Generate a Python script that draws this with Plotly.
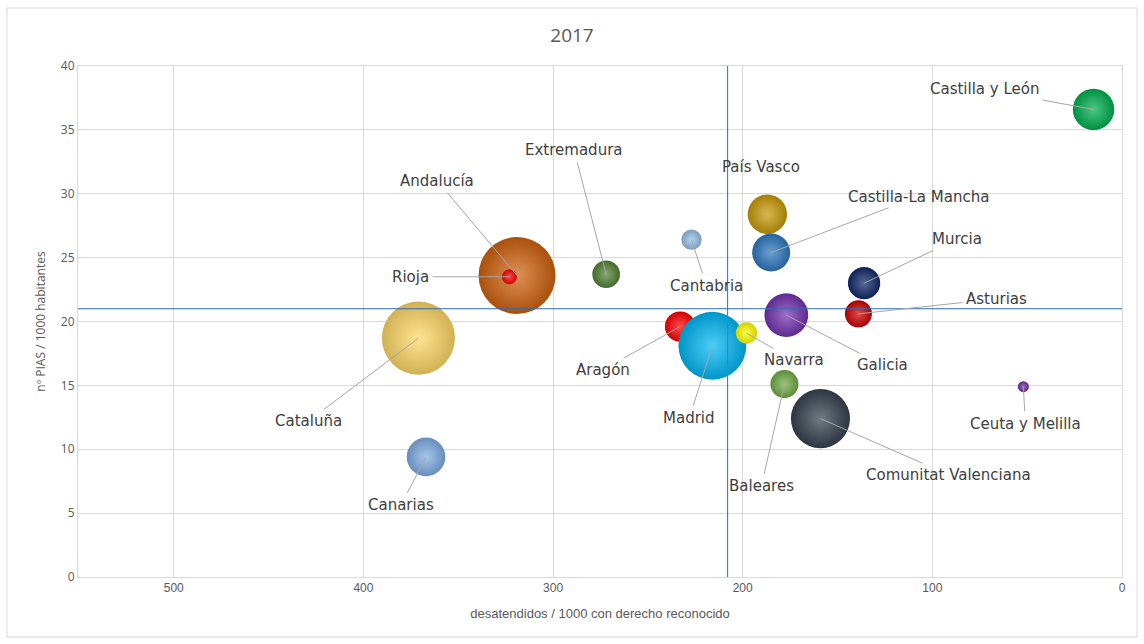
import plotly.graph_objects as go

# Regiones y valores 2017
regiones = ["Andalucía", "Aragón", "Asturias", "Baleares", "Canarias", "Cantabria",
            "Castilla-La Mancha", "Castilla y León", "Cataluña", "Ceuta y Melilla",
            "Comunitat Valenciana", "Extremadura", "Galicia", "Madrid", "Murcia",
            "Navarra", "País Vasco", "Rioja"]
desatendidos = [319, 233, 139, 178, 367, 227, 185, 15, 371, 52, 159, 272, 177, 216, 136, 198, 187, 323]
pias = [23.6, 19.6, 20.6, 15.1, 9.4, 26.4, 25.4, 36.6, 18.7, 14.9, 12.4, 23.7, 20.5, 18.1, 23.0, 19.1, 28.4, 23.5]
poblacion = [8379, 1308, 1035, 1115, 2108, 580, 2031, 2426, 7556, 171, 4941, 1080, 2708, 6507, 1470, 643, 2194, 315]

# Valores de referencia (medias)
media_desatendidos = 208
media_pias = 21.0

colores = ["#D0620F", "#FF0000", "#D00000", "#70AD47", "#7FAEE6", "#94C0EA",
           "#2E78C0", "#00B050", "#FFD966", "#7030A0", "#36414F", "#548235",
           "#7432B0", "#00B8F5", "#10296A", "#FFFF00", "#C89A08", "#FF0000"]

# Desplazamiento (px) de cada etiqueta respecto a su burbuja
etiqueta_dx = [-80, -77, 138, -23, -25, 15, 147, -109, -110, 2, 128, -32, 96, -23, 93, 47, -6, -99]
etiqueta_dy = [-95, 43, -15, 102, 48, 46, -56, -20, 83, 37, 56, -124, 50, 72, -44, 27, -47, 0]


def mezcla(hex_color, destino, t):
    h = hex_color.lstrip("#")
    r, g, b = (int(h[i:i + 2], 16) for i in (0, 2, 4))
    dr, dg, db = destino
    return "rgb({},{},{})".format(int(r + (dr - r) * t), int(g + (dg - g) * t), int(b + (db - b) * t))


centro = [mezcla(c, (255, 255, 255), 0.3) for c in colores]
borde = [mezcla(c, (0, 0, 0), 0.18) for c in colores]

# Diámetro máximo de burbuja: 77 px
sizeref = 2.0 * max(poblacion) / (77 ** 2)

fig = go.Figure()
fig.add_trace(go.Scatter(
    x=desatendidos, y=pias, mode="markers", text=regiones,
    marker=dict(size=poblacion, sizemode="area", sizeref=sizeref,
                color=borde, opacity=1,
                gradient=dict(type="radial", color=centro),
                line=dict(width=0)),
    hovertemplate="%{text}<br>%{x}, %{y}<extra></extra>",
    showlegend=False,
))

fig.add_vline(x=media_desatendidos, line=dict(color="#2A8AE0", width=1.2), layer="above")
fig.add_hline(y=media_pias, line=dict(color="#2E6DB4", width=1.1), layer="above")

for nombre, x, y, dx, dy in zip(regiones, desatendidos, pias, etiqueta_dx, etiqueta_dy):
    fig.add_annotation(
        x=x, y=y, text=nombre, showarrow=True, ax=dx, ay=dy,
        arrowhead=0, arrowwidth=1, standoff=0, startstandoff=2,
        arrowcolor="rgba(0,0,0,0)" if nombre == "País Vasco" else "#A6A6A6",
        font=dict(family="DejaVu Sans, Verdana", size=15, color="#404040"),
    )

# Borde del área del gráfico
fig.add_shape(type="rect", xref="paper", yref="paper",
              x0=-0.068, x1=1.0144, y0=-0.1174, y1=1.1135,
              line=dict(color="#D9D9D9", width=1), layer="below")

fig.update_layout(
    width=1144, height=644,
    margin=dict(l=78, r=22, t=66, b=67),
    paper_bgcolor="white", plot_bgcolor="white",
    title=dict(text="2017", x=0.5, xref="container", y=1 - 35 / 644, yref="container",
               yanchor="middle", xanchor="center",
               font=dict(family="Open Sans, Liberation Sans", size=19, color="#595959")),
    xaxis=dict(range=[550.5, 0], tickvals=[0, 100, 200, 300, 400, 500], ticks="",
               showgrid=True, gridcolor="#D9D9D9", gridwidth=1,
               showline=True, linecolor="#D9D9D9", mirror=True, zeroline=False,
               tickfont=dict(family="Liberation Sans Narrow, Liberation Sans", size=12, color="#595959"),
               title=dict(text="desatendidos / 1000 con derecho reconocido", standoff=14,
                          font=dict(family="Liberation Sans Narrow, Liberation Sans", size=13, color="#595959"))),
    yaxis=dict(range=[0, 40], dtick=5, ticks="",
               showgrid=True, gridcolor="#D9D9D9", gridwidth=1,
               showline=True, linecolor="#D9D9D9", mirror=True, zeroline=False,
               tickfont=dict(family="Open Sans, Liberation Sans", size=12, color="#595959"),
               title=dict(text="nº PIAS / 1000 habitantes", standoff=12,
                          font=dict(family="Open Sans, Liberation Sans", size=12, color="#595959"))),
)

fig.write_html("out.html")
